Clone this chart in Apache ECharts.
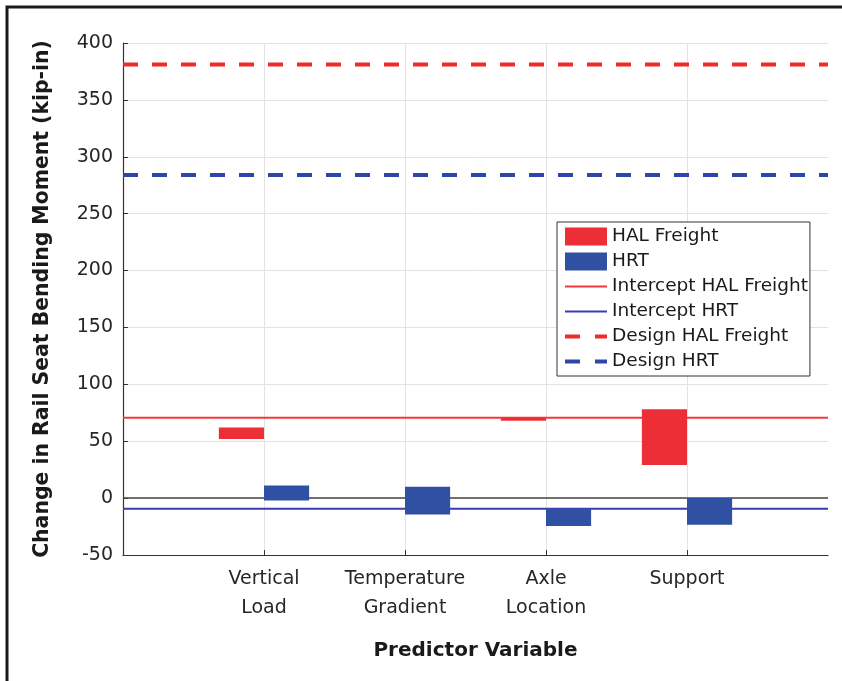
<!DOCTYPE html>
<html>
<head>
<meta charset="UTF-8">
<script src="https://cdn.jsdelivr.net/npm/echarts@6/dist/echarts.min.js"></script>
<style>
    html, body { margin: 0; height: 100%; background: #fff; }
    #chart { width: 842px; height: 681px; }
</style>
<title>Predictor Variable</title>
</head>
<body>
<div id="chart"></div>
<script>
    // categories on the x axis (placed at 1..4 on a 0..5 axis)
    var categories = ['Vertical\nLoad', 'Temperature\nGradient', 'Axle\nLocation', 'Support'];

    // floating bar ranges, kip-in
    var halLow  = [52, 70.4, 68, 29];
    var halHigh = [62, 70.8, 70.7, 78];
    var hrtLow  = [-2, -14.5, -24.5, -23.5];
    var hrtHigh = [11, 10, -9.4, 0];

    // reference lines
    var interceptHal = 70.7;
    var interceptHrt = -9.4;
    var designHal = 381;
    var designHrt = 284;

    var FONT = 'DejaVu Sans';

    var chart = echarts.init(document.getElementById('chart'));

    function barData(low, high) {
        return categories.map(function (c, i) {
            return [i + 1, low[i], high[i]];
        });
    }

    function hline(v) {
        return [[0, v], [5, v]];
    }

    // side -1 draws to the left of the category, +1 to the right
    function floatBar(side) {
        return function (params, api) {
            var x = api.value(0);
            var lo = api.coord([x, api.value(1)]);
            var hi = api.coord([x, api.value(2)]);
            var w = api.size([0.32, 0])[0];
            return {
                type: 'rect',
                shape: {
                    x: side < 0 ? lo[0] - w : lo[0],
                    y: hi[1],
                    width: w,
                    height: lo[1] - hi[1]
                },
                style: api.style()
            };
        };
    }

    // legend entry for a line: no marker, only the stroke
    var noMarker = {opacity: 0};

    var option = {
        backgroundColor: '#fff',
        animation: false,
        textStyle: {fontFamily: FONT},
        graphic: [{
            type: 'polyline',
            shape: {points: [[7, 700], [7, 7], [860, 7]]},
            style: {stroke: '#1a1a1a', lineWidth: 3, fill: null},
            silent: true
        }],
        grid: {left: 123, right: 14, top: 43, bottom: 126},
        legend: {
            orient: 'vertical',
            left: 557,
            top: 222,
            padding: [5, 2, 5, 6],
            itemWidth: 42,
            itemHeight: 18,
            itemGap: 6,
            borderColor: '#333',
            borderWidth: 1,
            backgroundColor: '#fff',
            lineStyle: {width: 'inherit'},
            textStyle: {fontFamily: FONT, fontSize: 18.5, color: '#1a1a1a', lineHeight: 18},
            data: [
                {name: 'HAL Freight', icon: 'rect'},
                {name: 'HRT', icon: 'rect'},
                {name: 'Intercept HAL Freight', itemStyle: noMarker},
                {name: 'Intercept HRT', itemStyle: noMarker},
                {name: 'Design HAL Freight', itemStyle: noMarker, lineStyle: {type: [15, 15]}},
                {name: 'Design HRT', itemStyle: noMarker, lineStyle: {type: [15, 15]}}
            ]
        },
        xAxis: {
            type: 'value',
            min: 0,
            max: 5,
            interval: 1,
            name: 'Predictor Variable',
            nameLocation: 'middle',
            nameGap: 86,
            nameTextStyle: {fontFamily: FONT, fontSize: 20, fontWeight: 'bold', color: '#1a1a1a'},
            axisLine: {onZero: false, lineStyle: {color: '#333', width: 1.2}},
            axisTick: {inside: true, length: 5, customValues: [1, 2, 3, 4], lineStyle: {color: '#333'}},
            axisLabel: {
                customValues: [1, 2, 3, 4],
                margin: 10,
                fontFamily: FONT,
                fontSize: 19,
                lineHeight: 29,
                color: '#262626',
                formatter: function (v) { return categories[v - 1] || ''; }
            },
            splitLine: {show: true, lineStyle: {color: '#e3e3e3', width: 1}}
        },
        yAxis: {
            type: 'value',
            min: -50,
            max: 400,
            interval: 50,
            name: 'Change in Rail Seat Bending Moment (kip-in)',
            nameLocation: 'middle',
            nameGap: 70,
            nameTextStyle: {fontFamily: FONT, fontSize: 20.4, fontWeight: 'bold', color: '#1a1a1a'},
            axisLine: {show: true, lineStyle: {color: '#333', width: 1.2}},
            axisTick: {show: true, inside: true, length: 5, lineStyle: {color: '#333'}},
            axisLabel: {margin: 10, fontFamily: FONT, fontSize: 19, color: '#262626'},
            splitLine: {show: true, lineStyle: {color: '#e3e3e3', width: 1}}
        },
        series: [
            {
                name: 'zero',
                type: 'line',
                data: hline(0),
                symbol: 'none',
                silent: true,
                z: 2,
                lineStyle: {color: '#444', width: 1.5}
            },
            {
                name: 'Intercept HAL Freight',
                type: 'line',
                data: hline(interceptHal),
                symbol: 'none',
                z: 3,
                itemStyle: {color: '#f03a3a'},
                lineStyle: {color: '#f03a3a', width: 2}
            },
            {
                name: 'Intercept HRT',
                type: 'line',
                data: hline(interceptHrt),
                symbol: 'none',
                z: 3,
                itemStyle: {color: '#3b3bb3'},
                lineStyle: {color: '#3b3bb3', width: 2}
            },
            {
                name: 'Design HAL Freight',
                type: 'line',
                data: hline(designHal),
                symbol: 'none',
                z: 3,
                itemStyle: {color: '#ee2b2b'},
                lineStyle: {color: '#ee2b2b', width: 4, type: [15, 14]}
            },
            {
                name: 'Design HRT',
                type: 'line',
                data: hline(designHrt),
                symbol: 'none',
                z: 3,
                itemStyle: {color: '#3046a6'},
                lineStyle: {color: '#3046a6', width: 4, type: [15, 14]}
            },
            {
                name: 'HAL Freight',
                type: 'custom',
                renderItem: floatBar(-1),
                encode: {x: 0, y: [1, 2]},
                data: barData(halLow, halHigh),
                z: 5,
                itemStyle: {color: '#ee2e36'}
            },
            {
                name: 'HRT',
                type: 'custom',
                renderItem: floatBar(1),
                encode: {x: 0, y: [1, 2]},
                data: barData(hrtLow, hrtHigh),
                z: 5,
                itemStyle: {color: '#3050a3'}
            }
        ]
    };

    chart.setOption(option);
</script>
</body>
</html>
